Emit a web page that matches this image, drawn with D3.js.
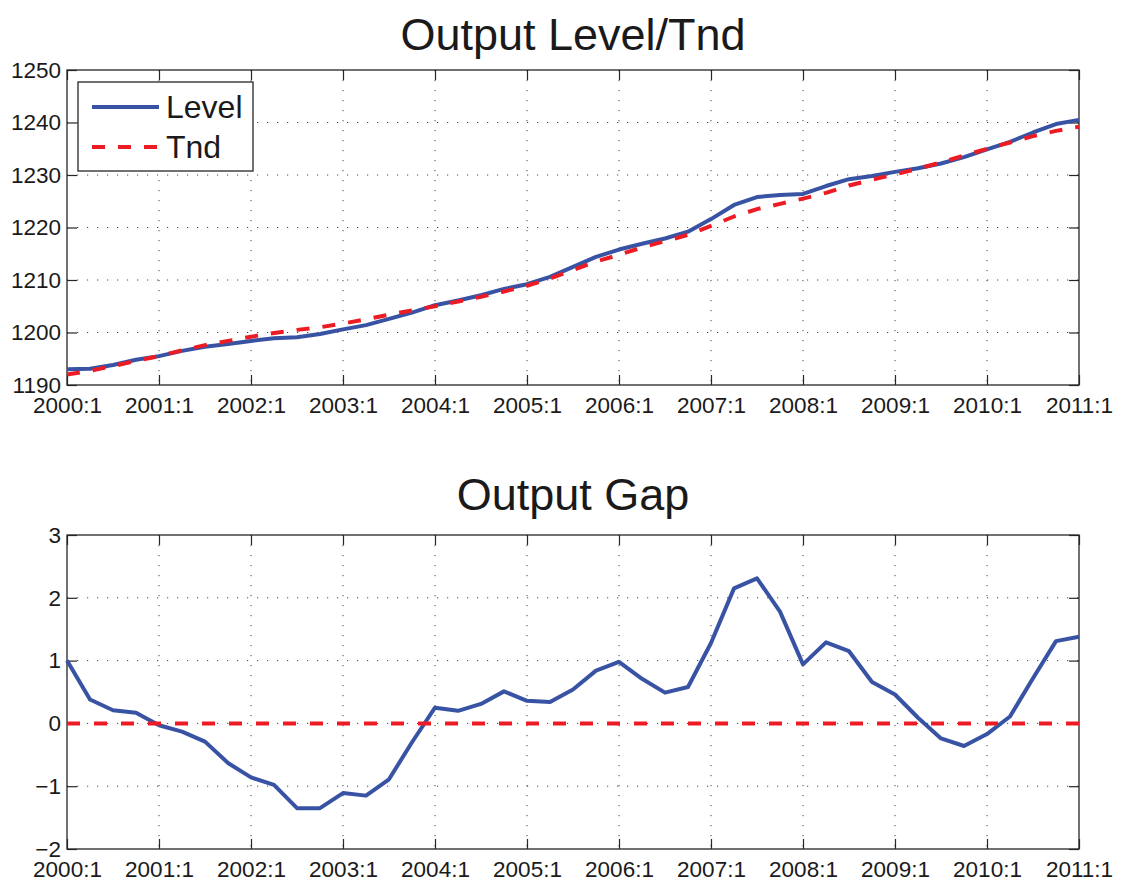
<!DOCTYPE html>
<html>
<head>
<meta charset="utf-8">
<script src="https://cdn.jsdelivr.net/npm/d3@7/dist/d3.min.js"></script>
<style>
  body { margin: 0; background: #fff; }
  svg text { font-family: "Liberation Sans", Arial, Helvetica, sans-serif; fill: #1a1a1a; }
</style>
</head>
<body>
<svg id="chart" width="1130" height="884"></svg>
<script>
// quarters 2000:1 .. 2011:1
const quarters = [
  '2000:1','2000:2','2000:3','2000:4','2001:1','2001:2','2001:3','2001:4',
  '2002:1','2002:2','2002:3','2002:4','2003:1','2003:2','2003:3','2003:4',
  '2004:1','2004:2','2004:3','2004:4','2005:1','2005:2','2005:3','2005:4',
  '2006:1','2006:2','2006:3','2006:4','2007:1','2007:2','2007:3','2007:4',
  '2008:1','2008:2','2008:3','2008:4','2009:1','2009:2','2009:3','2009:4',
  '2010:1','2010:2','2010:3','2010:4','2011:1'
]
const yearTicks = ['2000:1','2001:1','2002:1','2003:1','2004:1','2005:1',
  '2006:1','2007:1','2008:1','2009:1','2010:1','2011:1']

const level = [
  1193.0, 1193.1, 1193.8, 1194.8, 1195.5, 1196.5, 1197.3, 1197.8,
  1198.4, 1198.9, 1199.1, 1199.7, 1200.6, 1201.4, 1202.6, 1203.8,
  1205.2, 1206.1, 1207.1, 1208.3, 1209.2, 1210.6, 1212.5, 1214.4,
  1215.8, 1216.9, 1217.9, 1219.2, 1221.6, 1224.3, 1225.8, 1226.2,
  1226.4, 1227.9, 1229.2, 1229.8, 1230.6, 1231.3, 1232.2, 1233.4,
  1234.9, 1236.3, 1238.1, 1239.7, 1240.5
]
const trend = [
  1192.0, 1192.7, 1193.6, 1194.6, 1195.5, 1196.6, 1197.6, 1198.4,
  1199.2, 1199.9, 1200.5, 1201.0, 1201.7, 1202.5, 1203.4, 1204.2,
  1205.0, 1205.9, 1206.8, 1207.8, 1208.9, 1210.3, 1211.9, 1213.5,
  1214.8, 1216.2, 1217.4, 1218.6, 1220.3, 1222.1, 1223.5, 1224.5,
  1225.5, 1226.6, 1228.0, 1229.1, 1230.1, 1231.2, 1232.4, 1233.7,
  1235.0, 1236.2, 1237.4, 1238.4, 1239.2
]
const gap = [
  1.00, 0.38, 0.21, 0.17, -0.03, -0.13, -0.29, -0.63,
  -0.86, -0.98, -1.35, -1.35, -1.11, -1.15, -0.89, -0.30,
  0.25, 0.20, 0.31, 0.51, 0.36, 0.34, 0.54, 0.84,
  0.98, 0.71, 0.49, 0.58, 1.28, 2.15, 2.31, 1.78,
  0.94, 1.29, 1.15, 0.66, 0.46, 0.09, -0.24, -0.36,
  -0.17, 0.11, 0.72, 1.31, 1.38
]
const zeroLine = quarters.map(() => 0)

const levelTicks = [1190, 1200, 1210, 1220, 1230, 1240, 1250]
const gapTicks = [-2, -1, 0, 1, 2, 3]

const blue = '#3953a4'
const red = '#ed1c24'

const svg = d3.select('#chart')
const left = 67, right = 1079

const x = d3.scalePoint().domain(quarters).range([left, right])

function panel(top, bottom, domain, yTicks, title, titleY) {
  const y = d3.scaleLinear().domain(domain).range([bottom, top])
  const g = svg.append('g')

  // dotted grid
  g.selectAll('.vgrid').data(yearTicks.slice(1, -1)).enter().append('line')
    .attr('x1', d => x(d)).attr('x2', d => x(d))
    .attr('y1', top).attr('y2', bottom)
    .attr('stroke', '#444').attr('stroke-width', 1)
    .attr('stroke-dasharray', '1.2,8.8')
  g.selectAll('.hgrid').data(yTicks.slice(1, -1)).enter().append('line')
    .attr('x1', left).attr('x2', right)
    .attr('y1', d => y(d)).attr('y2', d => y(d))
    .attr('stroke', '#444').attr('stroke-width', 1)
    .attr('stroke-dasharray', '1.2,8.8')

  // inward ticks on all sides
  const fmt = d => String(d).replace('-', '\u2212')
  g.append('g').attr('transform', `translate(0,${bottom})`)
    .call(d3.axisBottom(x).tickValues(yearTicks).tickSizeInner(-10).tickSizeOuter(0).tickPadding(12))
  g.append('g').attr('transform', `translate(0,${top})`)
    .call(d3.axisTop(x).tickValues(yearTicks).tickSizeInner(-10).tickSizeOuter(0).tickFormat(''))
  g.append('g').attr('transform', `translate(${left},0)`)
    .call(d3.axisLeft(y).tickValues(yTicks).tickFormat(fmt).tickSizeInner(-10).tickSizeOuter(0).tickPadding(6))
  g.append('g').attr('transform', `translate(${right},0)`)
    .call(d3.axisRight(y).tickValues(yTicks).tickSizeInner(-10).tickSizeOuter(0).tickFormat(''))

  g.selectAll('.domain').remove()
  g.selectAll('.tick line').attr('stroke', '#262626').attr('stroke-width', 1.2)
  g.selectAll('.tick text').attr('font-size', 22.5).attr('fill', '#1a1a1a')

  g.append('rect')
    .attr('x', left).attr('y', top)
    .attr('width', right - left).attr('height', bottom - top)
    .attr('fill', 'none').attr('stroke', '#262626').attr('stroke-width', 1.3)

  svg.append('text')
    .attr('x', (left + right) / 2).attr('y', titleY)
    .attr('text-anchor', 'middle')
    .attr('font-size', 45)
    .text(title)

  return { g, y }
}

function drawLine(g, y, values, color, dash) {
  const line = d3.line()
    .x((d, i) => x(quarters[i]))
    .y(d => y(d))
  const p = g.append('path').datum(values)
    .attr('d', line)
    .attr('fill', 'none')
    .attr('stroke', color)
    .attr('stroke-width', 4)
    .attr('stroke-linejoin', 'round')
  if (dash) p.attr('stroke-dasharray', dash)
  return p
}

// top panel
const p1 = panel(70, 385, [1190, 1250], levelTicks, 'Output Level/Tnd', 50)
drawLine(p1.g, p1.y, level, blue)
drawLine(p1.g, p1.y, trend, red, '13,13')

// legend
const lg = svg.append('g')
lg.append('rect')
  .attr('x', 78).attr('y', 82).attr('width', 175).attr('height', 89)
  .attr('fill', '#fff').attr('stroke', '#262626').attr('stroke-width', 1.3)
const legendItems = [
  { name: 'Level', color: blue, dash: null, cy: 107 },
  { name: 'Tnd', color: red, dash: '13,13', cy: 147 }
]
legendItems.forEach(d => {
  const l = lg.append('line')
    .attr('x1', 92).attr('x2', 159)
    .attr('y1', d.cy).attr('y2', d.cy)
    .attr('stroke', d.color).attr('stroke-width', 4)
  if (d.dash) l.attr('stroke-dasharray', d.dash)
  lg.append('text')
    .attr('x', 166).attr('y', d.cy + 11)
    .attr('font-size', 32)
    .text(d.name)
})

// bottom panel
const p2 = panel(535, 849, [-2, 3], gapTicks, 'Output Gap', 510)
drawLine(p2.g, p2.y, gap, blue)
drawLine(p2.g, p2.y, zeroLine, red, '13,14')
</script>
</body>
</html>
